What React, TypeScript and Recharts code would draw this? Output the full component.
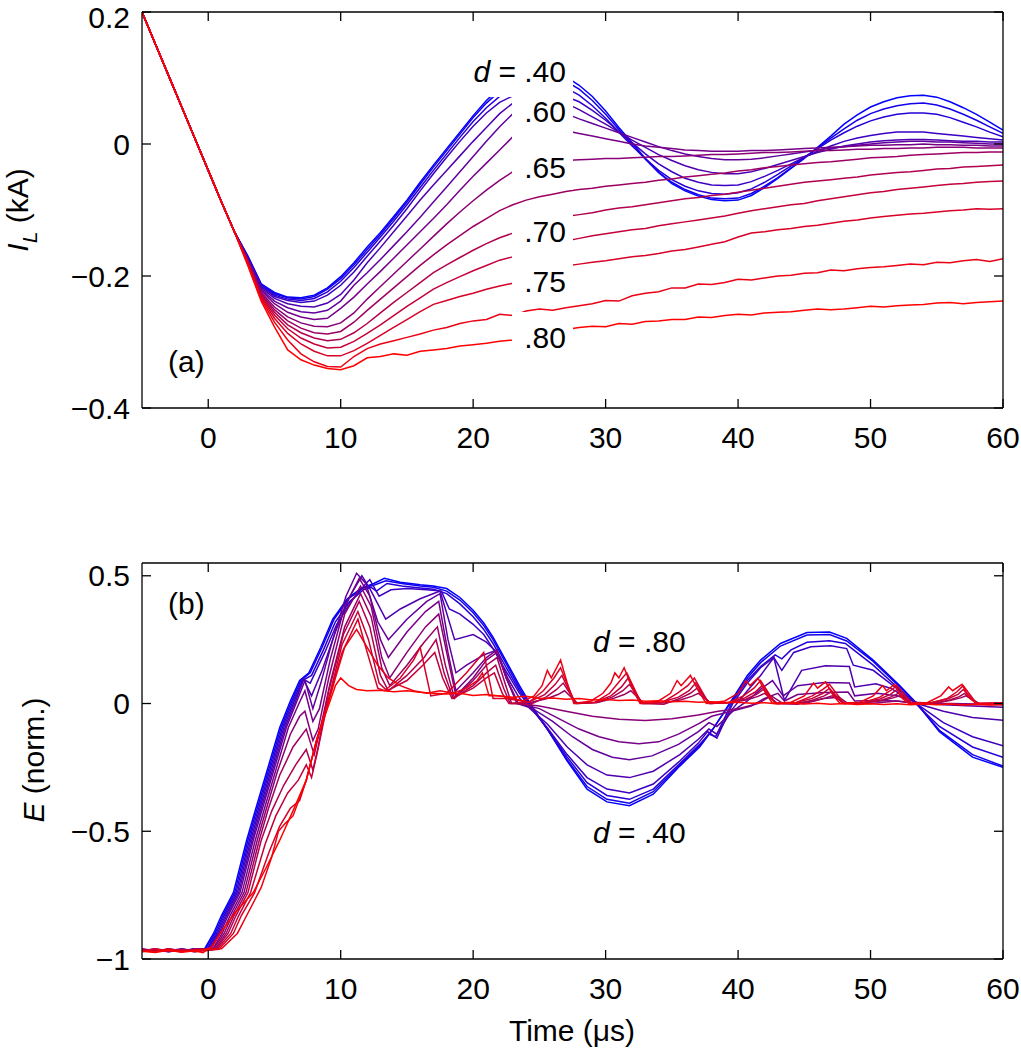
import React from 'react';
import { LineChart, Line, XAxis, YAxis } from 'recharts';

const FONT = '"Liberation Sans", Arial, Helvetica, sans-serif';

// time grid for panel (a), µs
const tGrid = [
  -5, -4, -3, -2, -1, 0, 1, 2, 3, 4, 5, 6, 7, 8, 9, 10, 11, 12, 13, 14, 15, 16, 17, 18, 19, 20, 21, 22,
  23, 24, 25, 26, 27, 28, 29, 30, 31, 32, 33, 34, 35, 36, 37, 38, 39, 40, 41, 42, 43, 44, 45, 46, 47,
  48, 49, 50, 51, 52, 53, 54, 55, 56, 57, 58, 59, 60,
];

// panel (a): common descent t = -5..2, then one tail per d value (t = 3..60)
const iStart = [0.2, 0.152, 0.104, 0.056, 0.008, -0.04, -0.088, -0.134];

const iL40 = [
  -0.170, -0.212, -0.225, -0.232, -0.233, -0.229, -0.218, -0.201, -0.180, -0.156,
  -0.134, -0.110, -0.085, -0.058, -0.032, -0.007, 0.018, 0.043, 0.066, 0.085,
  0.099, 0.108, 0.112, 0.110, 0.102, 0.089, 0.072, 0.050, 0.025, 0.002,
  -0.022, -0.043, -0.060, -0.071, -0.079, -0.084, -0.086, -0.085, -0.078, -0.066,
  -0.052, -0.037, -0.022, -0.005, 0.012, 0.030, 0.044, 0.056, 0.064, 0.070,
  0.073, 0.074, 0.071, 0.064, 0.055, 0.045, 0.033, 0.021,
];
const iL1 = [
  -0.171, -0.213, -0.227, -0.233, -0.235, -0.231, -0.220, -0.204, -0.183, -0.160,
  -0.137, -0.113, -0.088, -0.061, -0.035, -0.010, 0.015, 0.040, 0.062, 0.080,
  0.093, 0.101, 0.104, 0.102, 0.095, 0.083, 0.066, 0.045, 0.022, -0.001,
  -0.023, -0.043, -0.058, -0.069, -0.077, -0.082, -0.083, -0.082, -0.075, -0.064,
  -0.051, -0.036, -0.021, -0.006, 0.009, 0.023, 0.036, 0.046, 0.053, 0.058,
  0.061, 0.062, 0.059, 0.053, 0.045, 0.036, 0.026, 0.016,
];
const iL2 = [
  -0.172, -0.214, -0.229, -0.235, -0.237, -0.234, -0.224, -0.208, -0.187, -0.164,
  -0.141, -0.117, -0.092, -0.066, -0.040, -0.015, 0.010, 0.034, 0.055, 0.072,
  0.084, 0.091, 0.094, 0.092, 0.085, 0.074, 0.058, 0.039, 0.018, -0.003,
  -0.022, -0.040, -0.054, -0.064, -0.071, -0.075, -0.076, -0.074, -0.068, -0.058,
  -0.046, -0.033, -0.020, -0.007, 0.006, 0.017, 0.027, 0.035, 0.041, 0.045,
  0.047, 0.047, 0.045, 0.040, 0.033, 0.026, 0.018, 0.011,
];
const iL3 = [
  -0.173, -0.216, -0.231, -0.237, -0.240, -0.238, -0.229, -0.214, -0.194, -0.170,
  -0.147, -0.123, -0.098, -0.071, -0.045, -0.020, 0.004, 0.027, 0.047, 0.063,
  0.073, 0.078, 0.079, 0.077, 0.072, 0.064, 0.051, 0.036, 0.019, 0.002,
  -0.015, -0.030, -0.042, -0.052, -0.058, -0.062, -0.063, -0.062, -0.057, -0.049,
  -0.040, -0.030, -0.020, -0.011, -0.003, 0.004, 0.009, 0.013, 0.016, 0.018,
  0.018, 0.018, 0.016, 0.014, 0.012, 0.010, 0.008, 0.006,
];
const iL4 = [
  -0.174, -0.218, -0.234, -0.242, -0.246, -0.247, -0.241, -0.228, -0.206, -0.180,
  -0.157, -0.133, -0.109, -0.085, -0.062, -0.040, -0.018, 0.004, 0.025, 0.046,
  0.062, 0.070, 0.072, 0.069, 0.062, 0.052, 0.041, 0.030, 0.018, 0.006,
  -0.005, -0.016, -0.025, -0.033, -0.039, -0.043, -0.045, -0.045, -0.042, -0.037,
  -0.031, -0.025, -0.019, -0.013, -0.008, -0.003, 0.000, 0.003, 0.005, 0.006,
  0.007, 0.007, 0.006, 0.005, 0.004, 0.004, 0.003, 0.003,
];
const iL5 = [
  -0.175, -0.220, -0.238, -0.248, -0.254, -0.256, -0.252, -0.238, -0.214, -0.195,
  -0.175, -0.154, -0.133, -0.111, -0.088, -0.065, -0.042, -0.019, 0.004, 0.026,
  0.046, 0.054, 0.056, 0.054, 0.046, 0.038, 0.031, 0.024, 0.017, 0.010,
  0.003, -0.004, -0.010, -0.015, -0.019, -0.022, -0.024, -0.024, -0.023, -0.021,
  -0.018, -0.015, -0.012, -0.009, -0.006, -0.004, -0.002, 0.000, 0.002, 0.003,
  0.004, 0.004, 0.003, 0.003, 0.002, 0.001, 0.000, 0.000,
];
const iL6 = [
  -0.176, -0.222, -0.242, -0.255, -0.262, -0.266, -0.264, -0.249, -0.232, -0.212,
  -0.193, -0.173, -0.153, -0.133, -0.113, -0.092, -0.070, -0.049, -0.029, -0.009,
  0.011, 0.020, 0.024, 0.024, 0.020, 0.016, 0.012, 0.008, 0.004, 0.000,
  -0.003, -0.005, -0.007, -0.009, -0.010, -0.011, -0.011, -0.011, -0.010, -0.010,
  -0.009, -0.008, -0.007, -0.006, -0.005, -0.004, -0.003, -0.002, -0.002, -0.001,
  -0.001, 0.000, -0.001, -0.001, -0.002, -0.002, -0.003, -0.003,
];
const iL7 = [
  -0.177, -0.225, -0.247, -0.262, -0.271, -0.276, -0.277, -0.271, -0.256, -0.235,
  -0.216, -0.197, -0.178, -0.159, -0.140, -0.121, -0.103, -0.086, -0.070, -0.055,
  -0.042, -0.034, -0.029, -0.026, -0.025, -0.024, -0.023, -0.022, -0.022, -0.021,
  -0.020, -0.019, -0.019, -0.018, -0.017, -0.016, -0.016, -0.015, -0.014, -0.013,
  -0.013, -0.012, -0.011, -0.010, -0.010, -0.009, -0.008, -0.008, -0.007, -0.007,
  -0.006, -0.006, -0.005, -0.005, -0.005, -0.006, -0.006, -0.006,
];
const iL8 = [
  -0.178, -0.227, -0.251, -0.268, -0.279, -0.286, -0.288, -0.284, -0.270, -0.252,
  -0.235, -0.218, -0.201, -0.184, -0.168, -0.153, -0.139, -0.125, -0.113, -0.101,
  -0.092, -0.085, -0.080, -0.076, -0.072, -0.069, -0.067, -0.064, -0.062, -0.060,
  -0.058, -0.055, -0.053, -0.050, -0.048, -0.046, -0.044, -0.041, -0.039, -0.036,
  -0.034, -0.032, -0.030, -0.028, -0.027, -0.025, -0.023, -0.021, -0.020, -0.019,
  -0.017, -0.016, -0.015, -0.014, -0.013, -0.013, -0.012, -0.012,
];
const iL9 = [
  -0.179, -0.229, -0.255, -0.274, -0.286, -0.294, -0.298, -0.296, -0.286, -0.272,
  -0.256, -0.240, -0.225, -0.210, -0.195, -0.183, -0.172, -0.161, -0.151, -0.142,
  -0.135, -0.128, -0.121, -0.116, -0.110, -0.107, -0.104, -0.100, -0.097, -0.095,
  -0.092, -0.089, -0.086, -0.083, -0.081, -0.078, -0.076, -0.073, -0.070, -0.067,
  -0.064, -0.061, -0.058, -0.056, -0.054, -0.052, -0.050, -0.047, -0.045, -0.043,
  -0.042, -0.040, -0.038, -0.037, -0.035, -0.034, -0.033, -0.032,
];
const iL10 = [
  -0.180, -0.231, -0.259, -0.280, -0.294, -0.303, -0.309, -0.308, -0.299, -0.287,
  -0.274, -0.260, -0.246, -0.233, -0.220, -0.210, -0.201, -0.192, -0.184, -0.176,
  -0.171, -0.165, -0.158, -0.152, -0.147, -0.143, -0.139, -0.136, -0.133, -0.130,
  -0.128, -0.124, -0.121, -0.118, -0.115, -0.112, -0.109, -0.105, -0.101, -0.098,
  -0.095, -0.092, -0.090, -0.086, -0.083, -0.080, -0.077, -0.074, -0.072, -0.069,
  -0.067, -0.065, -0.063, -0.061, -0.060, -0.058, -0.057, -0.056,
];
const iL11 = [
  -0.181, -0.233, -0.264, -0.287, -0.303, -0.314, -0.321, -0.321, -0.313, -0.302,
  -0.290, -0.278, -0.266, -0.254, -0.243, -0.237, -0.231, -0.226, -0.220, -0.215,
  -0.211, -0.204, -0.196, -0.190, -0.185, -0.182, -0.179, -0.177, -0.174, -0.171,
  -0.169, -0.166, -0.162, -0.160, -0.156, -0.152, -0.148, -0.141, -0.135, -0.133,
  -0.130, -0.128, -0.125, -0.123, -0.120, -0.117, -0.115, -0.112, -0.110, -0.108,
  -0.106, -0.105, -0.103, -0.101, -0.100, -0.098, -0.099, -0.098,
];
const iL12 = [
  -0.183, -0.235, -0.270, -0.297, -0.318, -0.330, -0.337, -0.338, -0.322, -0.310,
  -0.303, -0.298, -0.293, -0.288, -0.282, -0.278, -0.272, -0.268, -0.266, -0.258,
  -0.260, -0.253, -0.250, -0.252, -0.248, -0.245, -0.242, -0.237, -0.238, -0.230,
  -0.226, -0.224, -0.218, -0.218, -0.212, -0.213, -0.210, -0.205, -0.206, -0.203,
  -0.200, -0.199, -0.196, -0.195, -0.191, -0.192, -0.189, -0.187, -0.186, -0.184,
  -0.182, -0.183, -0.179, -0.180, -0.177, -0.175, -0.178, -0.174,
];
const iL80 = [
  -0.185, -0.238, -0.277, -0.312, -0.327, -0.335, -0.340, -0.342, -0.336, -0.324,
  -0.322, -0.318, -0.320, -0.314, -0.312, -0.310, -0.306, -0.304, -0.302, -0.299,
  -0.297, -0.292, -0.288, -0.285, -0.281, -0.278, -0.276, -0.277, -0.272, -0.273,
  -0.269, -0.268, -0.266, -0.266, -0.262, -0.263, -0.260, -0.258, -0.259, -0.256,
  -0.255, -0.254, -0.252, -0.250, -0.251, -0.250, -0.248, -0.246, -0.247, -0.245,
  -0.244, -0.243, -0.241, -0.240, -0.242, -0.240, -0.239, -0.238,
];
const iTails = [iL40, iL1, iL2, iL3, iL4, iL5, iL6, iL7, iL8, iL9, iL10, iL11, iL12, iL80];

// panel (b): [t, E] vertices per d value, blue (.40) to red (.80)
const e40 = [
  [-5, -0.965], [-4, -0.972], [-3, -0.962], [-2, -0.968], [-1, -0.96], [-0.3, -0.962], [0.4, -0.9], [1, -0.83],
  [1.9, -0.74], [2.9, -0.535], [3.6, -0.41], [4.4, -0.27], [5.4, -0.094], [6.2, 0.01], [6.9, 0.09], [7.6, 0.12],
  [8.5, 0.22], [9.4, 0.33], [10.5, 0.41], [11.5, 0.45], [12.5, 0.47], [13.3, 0.49], [14.5, 0.475], [16, 0.465],
  [17, 0.46], [18, 0.45], [19, 0.415], [20, 0.365], [20.8, 0.315], [21.5, 0.26], [22.5, 0.165], [23.5, 0.07],
  [24.3, 0.0], [25.6, -0.1], [27.1, -0.225], [28.6, -0.335], [30.1, -0.385], [31.8, -0.4], [33.6, -0.355],
  [35.6, -0.245], [37.1, -0.17], [38.1, -0.1], [39.6, 0.02], [40.7, 0.11], [41.7, 0.17], [43.2, 0.235],
  [45.2, 0.278], [46.9, 0.28], [48.2, 0.255], [50.2, 0.17], [52.2, 0.07], [53.5, 0.0], [55.2, -0.11],
  [57.7, -0.21], [60, -0.25],
];
const e1 = [
  [-5, -0.97], [-4, -0.965], [-3, -0.972], [-2, -0.962], [-1, -0.967], [-0.2, -0.96], [0.5, -0.9], [1.1, -0.83],
  [2, -0.74], [3, -0.535], [3.7, -0.41], [4.5, -0.27], [5.5, -0.094], [6.3, 0.01], [7, 0.09], [7.7, 0.12],
  [8.6, 0.22], [9.5, 0.33], [10.6, 0.41], [11.6, 0.45], [12.6, 0.465], [13.4, 0.48], [14.6, 0.47], [16, 0.46],
  [17, 0.455], [18, 0.44], [19, 0.405], [20, 0.355], [20.8, 0.305], [21.5, 0.25], [22.5, 0.155], [23.5, 0.06],
  [24.3, -0.005], [25.6, -0.1], [27.1, -0.22], [28.6, -0.325], [30.1, -0.375], [31.8, -0.39], [33.6, -0.345],
  [35.6, -0.24], [37.1, -0.165], [38.1, -0.1], [39.6, 0.015], [40.7, 0.1], [41.7, 0.16], [43.2, 0.225],
  [45.2, 0.268], [46.9, 0.27], [48.2, 0.245], [50.2, 0.165], [52.2, 0.065], [53.5, -0.002], [55.2, -0.105],
  [57.7, -0.2], [60, -0.245],
];
const e2 = [
  [-5, -0.962], [-4, -0.97], [-3, -0.965], [-2, -0.972], [-1, -0.96], [-0.1, -0.962], [0.6, -0.9], [1.2, -0.83],
  [2.1, -0.74], [3.1, -0.535], [3.8, -0.41], [4.6, -0.27], [5.6, -0.094], [6.4, 0.01], [7.1, 0.09], [7.8, 0.11],
  [8.7, 0.21], [9.6, 0.32], [10.7, 0.4], [11.7, 0.445], [12.3, 0.455], [12.7, 0.44], [13.5, 0.47], [14.6, 0.46],
  [16, 0.452], [17, 0.447], [18, 0.43], [19, 0.39], [20, 0.34], [20.8, 0.29], [21.5, 0.235], [22.5, 0.14],
  [23.5, 0.05], [24.3, -0.01], [25.6, -0.1], [27.1, -0.21], [28.6, -0.31], [30.1, -0.36], [31.8, -0.375],
  [33.6, -0.335], [35.6, -0.235], [37.1, -0.16], [37.8, -0.12], [38.3, -0.13], [39.6, 0.01], [40.7, 0.09],
  [41.7, 0.145], [42.8, 0.19], [43.3, 0.175], [44, 0.21], [45.2, 0.24], [46.9, 0.246], [48.1, 0.235],
  [48.6, 0.215], [50.2, 0.15], [52.2, 0.055], [53.5, -0.005], [55.2, -0.09], [57.7, -0.17], [60, -0.21],
];
const e3 = [
  [-5, -0.968], [-4, -0.962], [-3, -0.97], [-2, -0.965], [-1, -0.972], [0, -0.96], [0.7, -0.9], [1.3, -0.83],
  [2.2, -0.74], [3.2, -0.535], [3.9, -0.41], [4.7, -0.27], [5.7, -0.094], [6.5, 0.01], [7.2, 0.095], [7.7, 0.08],
  [8.8, 0.2], [9.7, 0.31], [10.8, 0.4], [11.9, 0.47], [12.2, 0.485], [12.9, 0.42], [13.8, 0.445], [15, 0.45],
  [16.5, 0.445], [17.6, 0.44], [18.2, 0.37], [19, 0.35], [20, 0.31], [20.8, 0.27], [21.5, 0.215], [22.5, 0.125],
  [23.5, 0.04], [24.3, -0.015], [25.6, -0.095], [27.1, -0.2], [28.6, -0.29], [30.1, -0.335], [31.8, -0.35],
  [33.6, -0.315], [35.6, -0.225], [37, -0.155], [37.7, -0.11], [38.4, -0.135], [39.6, 0.0], [40.7, 0.08],
  [41.7, 0.14], [42.7, 0.18], [43.3, 0.13], [44.2, 0.2], [45.5, 0.222], [47, 0.226], [48.2, 0.215],
  [48.7, 0.15], [50.2, 0.13], [52.2, 0.05], [53.6, -0.005], [55.5, -0.075], [57.7, -0.13], [60, -0.165],
];
const e4 = [
  [-5, -0.965], [-4, -0.972], [-3, -0.96], [-2, -0.968], [-1, -0.962], [0.1, -0.96], [0.8, -0.9], [1.4, -0.83],
  [2.3, -0.74], [3.3, -0.535], [4, -0.41], [4.8, -0.27], [5.8, -0.094], [6.6, 0.01], [7.2, 0.095], [7.8, 0.03],
  [8.6, 0.13], [9.6, 0.28], [10.7, 0.42], [11.6, 0.5], [12.2, 0.45], [13.4, 0.33], [14.5, 0.37], [16, 0.41],
  [17.5, 0.44], [18.6, 0.25], [20, 0.27], [21, 0.24], [21.8, 0.2], [22.6, 0.1], [23.5, 0.02], [24.3, -0.02],
  [25.6, -0.08], [27.1, -0.17], [28.6, -0.24], [30.1, -0.28], [31.8, -0.29], [33.6, -0.265], [35.6, -0.2],
  [37, -0.14], [37.8, -0.1], [38.4, -0.12], [39.6, -0.02], [40.7, 0.05], [41.7, 0.11], [42.7, 0.18],
  [43.5, 0.012], [44.8, 0.13], [46.6, 0.148], [48.4, 0.145], [48.8, 0.065], [50.4, 0.077], [51.5, 0.06],
  [52.5, 0.03], [53.5, 0.0], [55.5, -0.03], [57.7, -0.055], [60, -0.066],
];
const e5 = [
  [-5, -0.97], [-4, -0.962], [-3, -0.968], [-2, -0.96], [-1, -0.97], [0.2, -0.962], [0.9, -0.9], [1.5, -0.83],
  [2.4, -0.74], [3.4, -0.535], [4.1, -0.41], [4.9, -0.27], [5.9, -0.094], [6.7, 0.01], [7.3, 0.09], [7.9, -0.02],
  [8.5, 0.08], [9.4, 0.25], [10.4, 0.42], [11.2, 0.51], [11.9, 0.47], [12.8, 0.32], [13.6, 0.25], [15, 0.33],
  [16.5, 0.4], [17.5, 0.43], [18.1, 0.25], [18.7, 0.12], [19.5, 0.15], [20.8, 0.19], [21.8, 0.21], [22.5, 0.1],
  [23.3, 0.0], [24.5, -0.02], [26, -0.07], [27.5, -0.13], [29, -0.18], [30.5, -0.21], [31.8, -0.22],
  [33.5, -0.205], [35.5, -0.16], [37, -0.11], [37.8, -0.075], [38.4, -0.09], [39.6, -0.03], [40.7, 0.01],
  [41.8, 0.06], [42.6, 0.09], [43.4, 0.03], [44.5, 0.07], [46.5, 0.082], [48.4, 0.08], [48.8, 0.03],
  [50.5, 0.04], [52, 0.03], [53.5, 0.005], [55.5, -0.005], [57.7, -0.01], [60, -0.015],
];
const e6 = [
  [-5, -0.962], [-4, -0.97], [-3, -0.966], [-2, -0.972], [-1, -0.96], [0.3, -0.965], [1.05, -0.9], [1.65, -0.83],
  [2.55, -0.74], [3.55, -0.535], [4.25, -0.41], [5.05, -0.27], [6.05, -0.094], [6.85, 0.0], [7.3, 0.05],
  [7.9, -0.07], [8.4, -0.02], [9.2, 0.17], [10.3, 0.38], [11.4, 0.49], [12.2, 0.42], [13, 0.25], [13.6, 0.18],
  [15, 0.28], [16.4, 0.36], [17.4, 0.4], [18.1, 0.2], [18.7, 0.05], [20, 0.12], [21, 0.18], [21.8, 0.21],
  [22.5, 0.1], [23.4, 0.0], [25, -0.02], [26.5, -0.06], [28, -0.1], [29.5, -0.13], [31, -0.15], [32.5, -0.157],
  [34, -0.15], [35.5, -0.12], [37, -0.08], [38, -0.05], [39.5, -0.03], [41, -0.01], [42, 0.02], [43, 0.04],
  [43.5, 0.01], [44.5, 0.035], [46.5, 0.043], [48.3, 0.045], [48.8, 0.01], [50.5, 0.012], [52, 0.01],
  [53.5, 0.0], [56, -0.003], [58, -0.004], [60, -0.005],
];
const e7 = [
  [-5, -0.968], [-4, -0.96], [-3, -0.972], [-2, -0.965], [-1, -0.97], [0.4, -0.96], [1.2, -0.9], [1.8, -0.83],
  [2.7, -0.74], [3.7, -0.535], [4.4, -0.41], [5.2, -0.27], [6.2, -0.12], [6.9, -0.05], [7.3, -0.03],
  [7.9, -0.145], [8.3, -0.1], [9.1, 0.1], [10.3, 0.35], [11.5, 0.46], [12.3, 0.38], [13.1, 0.18], [13.7, 0.1],
  [15, 0.2], [16.4, 0.3], [17.4, 0.35], [18, 0.2], [18.7, 0.03], [20, 0.1], [21, 0.17], [21.8, 0.2], [22.5, 0.1],
  [23.4, 0.0], [25, -0.01], [27, -0.03], [29, -0.05], [31, -0.062], [33, -0.066], [35, -0.06], [37, -0.045],
  [38.5, -0.03], [40, -0.02], [41.5, 0.0], [42.5, 0.03], [43.4, 0.0], [45, 0.0], [46.5, 0.02], [47.6, 0.025],
  [48.3, 0.0], [50, 0.0], [52, 0.01], [53.5, 0.0], [56, 0.0], [58, -0.002], [60, 0.0],
];
const e8 = [
  [-5, -0.96], [-4, -0.968], [-3, -0.962], [-2, -0.97], [-1, -0.964], [0.5, -0.962], [1.35, -0.9],
  [1.95, -0.83], [2.85, -0.74], [3.85, -0.535], [4.55, -0.41], [5.4, -0.28], [6.4, -0.17], [7.4, -0.1],
  [8, -0.2], [8.5, -0.09], [9.2, 0.08], [10.3, 0.3], [11.5, 0.43], [12.3, 0.34], [13.1, 0.14], [13.7, 0.07],
  [15, 0.15], [16.3, 0.24], [17.3, 0.3], [17.9, 0.15], [18.6, 0.02], [20, 0.09], [21, 0.15], [21.8, 0.18],
  [22.4, 0.08], [22.9, 0.0], [24.4, 0.005], [25.6, 0.02], [26.4, 0.035], [26.9, 0.05], [27.9, 0.0],
  [29.4, 0.004], [30.6, 0.02], [31.4, 0.035], [31.9, 0.05], [32.9, 0.0], [34.5, 0.003], [35.7, 0.015],
  [36.5, 0.028], [37, 0.04], [38, 0.0], [39.5, 0.004], [40.7, 0.015], [41.5, 0.028], [42, 0.04], [43, 0.0],
  [44.6, 0.003], [45.8, 0.012], [46.6, 0.022], [47.1, 0.03], [48.1, 0.0], [49.7, 0.004], [50.9, 0.012],
  [51.7, 0.022], [52.2, 0.03], [53.2, 0.0], [54.8, 0.003], [56, 0.012], [56.8, 0.022], [57.2, 0.03],
  [58.2, 0.0], [60, -0.003],
];
const e9 = [
  [-5, -0.972], [-4, -0.964], [-3, -0.97], [-2, -0.962], [-1, -0.968], [0.6, -0.96], [1.5, -0.9], [2.1, -0.83],
  [3, -0.74], [4, -0.535], [4.8, -0.42], [5.7, -0.32], [6.6, -0.24], [7.4, -0.18], [7.9, -0.26], [8.3, -0.17],
  [9.1, 0.05], [10.2, 0.27], [11.4, 0.4], [12.2, 0.3], [13, 0.11], [13.6, 0.05], [15, 0.11], [16.3, 0.18],
  [17.2, 0.25], [17.8, 0.12], [18.5, 0.02], [20, 0.07], [21, 0.12], [21.7, 0.15], [22.3, 0.06], [22.8, 0.0],
  [24.3, -0.004], [25.5, 0.025], [26.3, 0.055], [26.8, 0.08], [27.8, 0.0], [29.3, 0.004], [30.5, 0.025],
  [31.3, 0.05], [31.8, 0.075], [32.8, 0.0], [34.4, -0.003], [35.6, 0.02], [36.4, 0.04], [36.9, 0.06],
  [37.9, 0.0], [39.4, 0.004], [40.6, 0.018], [41.4, 0.036], [41.9, 0.055], [42.9, 0.0], [44.5, -0.003],
  [45.7, 0.015], [46.5, 0.03], [47, 0.045], [48, 0.0], [49.6, 0.003], [50.8, 0.013], [51.6, 0.027],
  [52.1, 0.04], [53.1, 0.0], [54.7, -0.003], [55.9, 0.013], [56.7, 0.027], [57.1, 0.04], [58.1, 0.0],
  [60, 0.002],
];
const e10 = [
  [-5, -0.966], [-4, -0.972], [-3, -0.964], [-2, -0.97], [-1, -0.962], [0.7, -0.96], [1.7, -0.9], [2.3, -0.83],
  [3.2, -0.74], [4.3, -0.55], [5.1, -0.44], [6, -0.35], [6.8, -0.3], [7.4, -0.24], [7.8, -0.29], [8.2, -0.2],
  [9, 0.0], [10.1, 0.23], [11.3, 0.36], [12.1, 0.25], [12.9, 0.08], [13.5, 0.05], [15, 0.09], [16.2, 0.15],
  [17.1, 0.2], [17.7, 0.1], [18.4, 0.02], [20, 0.06], [21, 0.1], [21.6, 0.12], [22.2, 0.04], [22.7, 0.0],
  [24.2, 0.006], [25.4, 0.035], [26.2, 0.075], [26.7, 0.11], [27.7, 0.0], [29.2, 0.005], [30.4, 0.03],
  [31.2, 0.065], [31.7, 0.1], [32.7, 0.0], [34.3, 0.006], [35.5, 0.025], [36.3, 0.05], [36.8, 0.08],
  [37.8, 0.0], [39.3, 0.005], [40.5, 0.022], [41.3, 0.045], [41.8, 0.07], [42.8, 0.0], [44.4, 0.004],
  [45.6, 0.02], [46.4, 0.04], [46.9, 0.06], [47.9, 0.0], [49.5, 0.004], [50.7, 0.018], [51.5, 0.036],
  [52, 0.055], [53, 0.0], [54.6, 0.004], [55.8, 0.018], [56.6, 0.036], [57, 0.055], [58, 0.0], [60, -0.004],
];
const e11 = [
  [-5, -0.97], [-4, -0.96], [-3, -0.968], [-2, -0.966], [-1, -0.972], [0.8, -0.962], [1.9, -0.9], [2.5, -0.83],
  [3.5, -0.74], [4.6, -0.58], [5.4, -0.48], [6.2, -0.41], [6.9, -0.38], [7.4, -0.3], [8.2, -0.14], [9, 0.0],
  [10.1, 0.2], [11.3, 0.33], [12, 0.2], [12.8, 0.06], [13.3, 0.05], [14.5, 0.1], [15.5, 0.17], [16, 0.22],
  [16.8, 0.03], [18, 0.04], [19.5, 0.12], [20.8, 0.2], [21.5, 0.02], [22.5, 0.02], [24.2, 0.005], [25.3, 0.05],
  [26.1, 0.1], [26.6, 0.14], [27.7, 0.0], [29.2, 0.005], [30.3, 0.04], [31.1, 0.09], [31.6, 0.12], [32.7, 0.0],
  [34.3, 0.004], [35.4, 0.04], [36.2, 0.07], [36.7, 0.1], [37.8, 0.0], [39.3, 0.004], [40.4, 0.03],
  [41.2, 0.06], [41.7, 0.09], [42.8, 0.0], [44.4, 0.004], [45.6, 0.03], [46.4, 0.055], [46.9, 0.075],
  [48, 0.0], [49.5, 0.004], [50.7, 0.025], [51.5, 0.05], [52, 0.07], [53.1, 0.0], [54.6, 0.003],
  [55.8, 0.02], [56.5, 0.045], [57, 0.07], [58, 0.0], [60, 0.003],
];
const e12 = [
  [-5, -0.968], [-4, -0.972], [-3, -0.96], [-2, -0.97], [-1, -0.965], [1, -0.96], [2.2, -0.9], [3, -0.82],
  [4, -0.72], [4.8, -0.6], [5.3, -0.5], [5.8, -0.47], [6.4, -0.44], [7.4, -0.3], [8.2, -0.14], [9, -0.01],
  [9.6, 0.1], [10.3, 0.22], [11.2, 0.29], [12, 0.22], [12.8, 0.15], [13.6, 0.1], [14.5, 0.07], [15.5, 0.05],
  [16.5, 0.04], [17.5, 0.05], [18.5, 0.04], [19.5, 0.06], [20.3, 0.09], [20.7, 0.12], [21.2, 0.03], [22, 0.03],
  [23, 0.02], [23.8, 0.01], [24.6, 0.03], [25.2, 0.07], [25.6, 0.13], [25.9, 0.1], [26.3, 0.14], [26.6, 0.17],
  [27.1, 0.08], [27.6, 0.0], [28.9, 0.01], [29.8, 0.04], [30.4, 0.08], [30.7, 0.12], [31, 0.1], [31.4, 0.14],
  [32, 0.06], [32.6, 0.0], [34, 0.01], [34.9, 0.04], [35.4, 0.09], [35.7, 0.07], [36.4, 0.11], [37, 0.05],
  [37.6, 0.0], [39, 0.01], [40, 0.04], [40.6, 0.09], [40.9, 0.07], [41.5, 0.1], [42.1, 0.04], [42.6, 0.0],
  [44, 0.005], [45, 0.03], [45.7, 0.08], [46, 0.06], [46.6, 0.085], [47.2, 0.03], [47.7, 0.0], [49.2, 0.005],
  [50.2, 0.03], [50.9, 0.07], [51.2, 0.05], [51.8, 0.075], [52.4, 0.02], [52.9, 0.0], [54.3, 0.004],
  [55.3, 0.03], [55.9, 0.065], [56.2, 0.05], [56.9, 0.075], [57.5, 0.02], [58, 0.0], [60, 0.0],
];
const e80 = [
  [-5, -0.97], [-4, -0.975], [-3, -0.966], [-2, -0.974], [-1, -0.968], [-0.4, -0.975], [0.3, -0.95],
  [0.9, -0.9], [2, -0.82], [3.4, -0.74], [4.4, -0.64], [5.4, -0.535], [6.4, -0.42], [7.4, -0.3], [8.2, -0.14],
  [9, -0.02], [9.6, 0.07], [10, 0.1], [10.6, 0.07], [11.2, 0.055], [12, 0.05], [13, 0.052], [14, 0.046],
  [15, 0.05], [16, 0.044], [17, 0.04], [18, 0.037], [19, 0.04], [20, 0.031], [21, 0.035], [22, 0.029],
  [23, 0.025], [24, 0.028], [25, 0.02], [26, 0.022], [27, 0.017], [28, 0.02], [29, 0.014], [30, 0.016],
  [31, 0.012], [32, 0.014], [33, 0.009], [34, 0.011], [35, 0.007], [36, 0.009], [37, 0.005], [38, 0.007],
  [39, 0.003], [40, 0.005], [41, 0.001], [42, 0.003], [43, -0.001], [44, 0.002], [45, -0.002], [46, 0.001],
  [47, -0.003], [48, 0.0], [49, -0.004], [50, -0.001], [51, -0.004], [52, -0.001], [53, -0.005], [54, -0.002],
  [55, -0.005], [56, -0.002], [57, -0.006], [58, -0.003], [59, -0.006], [60, -0.004],
];
const eCurves = [e40, e1, e2, e3, e4, e5, e6, e7, e8, e9, e10, e11, e12, e80];

const xTicks = [0, 10, 20, 30, 40, 50, 60];
const iTicks = [-0.4, -0.2, 0, 0.2];
const eTicks = [-1, -0.5, 0, 0.5];
const dTop = ['.60', '.65', '.70', '.75', '.80'];

const lineColor = (k: number, n: number) => {
  const f = k / (n - 1);
  return `rgb(${Math.round(255 * f)},0,${Math.round(255 * (1 - f))})`;
};

const fmt = (v: number) => (v === 0 ? '0' : (v < 0 ? '\u2212' : '') + String(Math.abs(v)));
const blank = () => '';

const tickStyle = { fill: '#000', fontSize: 30, fontFamily: FONT };
const axisStyle = { stroke: '#000', strokeWidth: 1.3 };

function axes(yDomain: number[], yTicks: number[], bottomHeight: number) {
  return [
    <XAxis key="xb" xAxisId="b" type="number" dataKey="t" domain={[-5, 60]} allowDataOverflow ticks={xTicks}
      height={bottomHeight} tickSize={-9} tickMargin={28} tick={tickStyle} tickFormatter={fmt}
      axisLine={axisStyle} tickLine={axisStyle} />,
    <XAxis key="xt" xAxisId="t" orientation="top" type="number" dataKey="t" domain={[-5, 60]} allowDataOverflow
      ticks={xTicks} height={1} tickSize={-9} tickMargin={0} tick={tickStyle} tickFormatter={blank}
      axisLine={axisStyle} tickLine={axisStyle} />,
    <YAxis key="yl" yAxisId="l" type="number" domain={yDomain} allowDataOverflow ticks={yTicks} width={142}
      tickSize={-9} tickMargin={21} tick={tickStyle} tickFormatter={fmt} axisLine={axisStyle} tickLine={axisStyle} />,
    <YAxis key="yr" yAxisId="r" orientation="right" type="number" domain={yDomain} allowDataOverflow ticks={yTicks}
      width={1} tickSize={-9} tickMargin={0} tick={tickStyle} tickFormatter={blank} axisLine={axisStyle}
      tickLine={axisStyle} />,
  ];
}

export default function App() {
  const iSeries = iTails.map((tail) => {
    const vals = [...iStart, ...tail];
    return tGrid.map((t, i) => ({ t, v: vals[i] }));
  });
  const eSeries = eCurves.map((c) => c.map(([t, v]) => ({ t, v })));
  const n = iSeries.length;

  return (
    <div style={{ position: 'absolute', left: 0, top: 0, width: 1021, height: 1050, background: '#fff' }}>
      <div style={{ position: 'absolute', left: 0, top: 0 }}>
        <LineChart width={1021} height={480} margin={{ top: 11, right: 17, bottom: 32, left: 0 }}>
          {axes([-0.4, 0.2], iTicks, 40)}
          {iSeries.map((d, k) => (
            <Line key={k} xAxisId="b" yAxisId="l" data={d} dataKey="v" type="linear" stroke={lineColor(k, n)}
              strokeWidth={1.5} dot={false} isAnimationActive={false} />
          ))}
        </LineChart>
      </div>
      <div style={{ position: 'absolute', left: 0, top: 520 }}>
        <LineChart width={1021} height={530} margin={{ top: 42, right: 17, bottom: 31, left: 0 }}>
          {axes([-1, 0.55], eTicks, 60)}
          {eSeries.map((d, k) => (
            <Line key={k} xAxisId="b" yAxisId="l" data={d} dataKey="v" type="linear" stroke={lineColor(k, n)}
              strokeWidth={1.5} dot={false} isAnimationActive={false} />
          ))}
        </LineChart>
      </div>
      <svg width={1021} height={1050} style={{ position: 'absolute', left: 0, top: 0, pointerEvents: 'none' }}
        fontFamily={FONT} fontSize={30} fill="#000">
        <rect x={470} y={48} width={103} height={49} fill="#fff" />
        <text x={566} y={82} textAnchor="end"><tspan fontStyle="italic">d</tspan> = .40</text>
        <rect x={512} y={97} width={61} height={45} fill="#fff" />
        <rect x={512} y={142} width={61} height={48} fill="#fff" />
        <rect x={512} y={206} width={61} height={46} fill="#fff" />
        <rect x={512} y={252} width={61} height={50} fill="#fff" />
        <rect x={512} y={312} width={61} height={46} fill="#fff" />
        {dTop.map((s, i) => (
          <text key={s} x={566} y={[122, 178, 242, 292, 348][i]} textAnchor="end">{s}</text>
        ))}
        <text x={168} y={372}>(a)</text>
        <text x={168} y={614}>(b)</text>
        <text x={593} y={652}><tspan fontStyle="italic">d</tspan> = .80</text>
        <text x={593} y={843}><tspan fontStyle="italic">d</tspan> = .40</text>
        <text x={572} y={1041} textAnchor="middle">Time (μs)</text>
        <text x={28} y={210} textAnchor="middle" transform="rotate(-90 28 210)">
          <tspan fontStyle="italic">I</tspan>
          <tspan fontStyle="italic" fontSize={21} dy={9}>L</tspan>
          <tspan dy={-9}> (kA)</tspan>
        </text>
        <text x={44} y={760} textAnchor="middle" transform="rotate(-90 44 760)">
          <tspan fontStyle="italic">E</tspan> (norm.)
        </text>
      </svg>
    </div>
  );
}
